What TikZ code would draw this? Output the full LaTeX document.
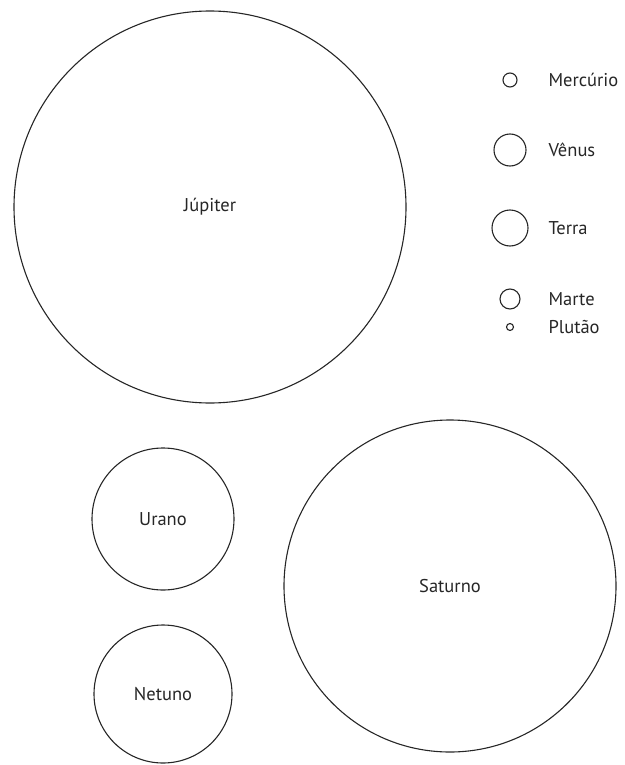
\documentclass[tikz,border=0pt]{standalone}
\usepackage{fontspec}
\setmainfont{PT Sans}
\usetikzlibrary{positioning}

\tikzset{
  planet/.style={circle, draw=black!85, line width=1.1pt, inner sep=0pt, minimum size=#1pt},
  planetname/.style={font=\fontsize{18.5}{22}\selectfont, text=black!85},
}

\begin{document}
\begin{tikzpicture}[x=1pt, y=-1pt]
\useasboundingbox (0,0) rectangle (624,765);

% big planets, name in the middle
\node[planet=392, planetname] (jupiter) at (210,207) {Júpiter};
\node[planet=332, planetname] (saturno) at (450,586) {Saturno};
\node[planet=142, planetname] (urano) at (163,519) {Urano};
\node[planet=138, planetname] (netuno) at (163,694) {Netuno};

% small ones, name on the right
\foreach \id/\y/\d/\txt in {mercurio/80/14/Mercúrio, venus/150/32/Vênus,
    terra/228/36/Terra, marte/299/20/Marte, plutao/327/7/Plutão} {
  \node[planet=\d] (\id) at (510,\y) {};
  \node[planetname, anchor=west] (\id-name) at (545,\y) {\txt};
}
\end{tikzpicture}
\end{document}
